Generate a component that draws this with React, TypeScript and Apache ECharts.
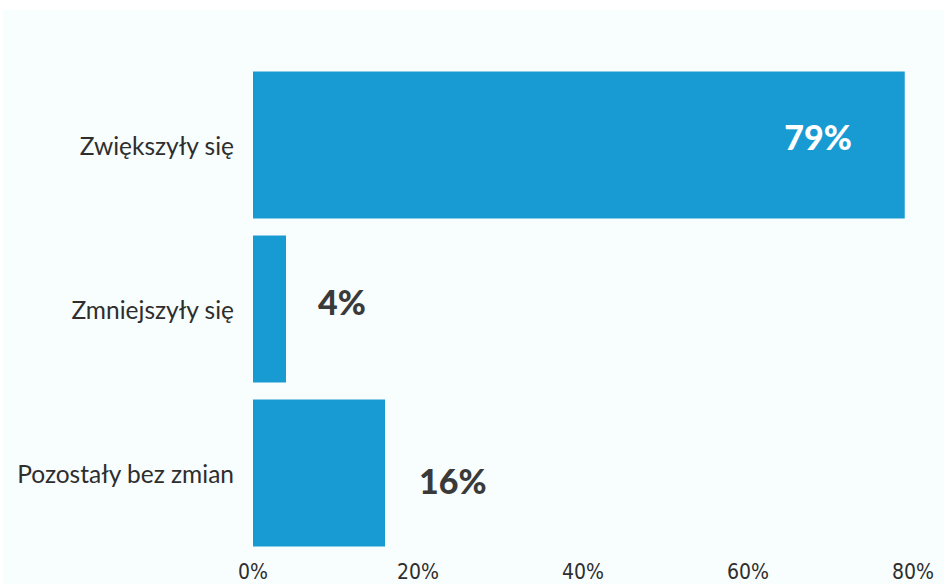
import React, { useEffect, useRef } from "react";
import * as echarts from "echarts";

const categories = ["Zwiększyły się", "Zmniejszyły się", "Pozostały bez zmian"];
const values = [79, 4, 16];
const xTicks = [0, 20, 40, 60, 80];

export default function App() {
  const ref = useRef<HTMLDivElement>(null);
  useEffect(() => {
    if (!ref.current) return;
    const chart = echarts.init(ref.current, undefined, { renderer: "svg" });
    const labelCfg = [
      { position: "insideRight", distance: 53, offset: [0, -9], color: "#ffffff" },
      { position: "right", distance: 32, offset: [0, -8], color: "#3a3a3a" },
      { position: "right", distance: 34, offset: [0, 7], color: "#3a3a3a" },
    ];
    chart.setOption({
      animation: false,
      backgroundColor: "#ffffff",
      graphic: [
        {
          type: "rect",
          z: -10,
          silent: true,
          shape: { x: 3, y: 10, width: 941, height: 574 },
          style: { fill: "#f8fdfd" },
        },
      ],
      grid: { left: 253, right: 31, top: 63, bottom: 29, containLabel: false },
      xAxis: {
        type: "value",
        min: xTicks[0],
        max: xTicks[xTicks.length - 1],
        interval: 20,
        axisLine: { show: false },
        axisTick: { show: false },
        splitLine: { show: false },
        axisLabel: {
          formatter: (v: number) => `${v}%`,
          fontFamily: "DejaVu Sans Condensed",
          fontSize: 21,
          color: "#2e2e2e",
          margin: 6,
          verticalAlign: "top",
        },
      },
      yAxis: {
        type: "category",
        data: categories,
        inverse: true,
        axisLine: { show: false },
        axisTick: { show: false },
        splitLine: { show: false },
        axisLabel: {
          fontFamily: "Lato",
          fontSize: 24.5,
          color: "#2e2e2e",
          margin: 19,
        },
      },
      series: [
        {
          type: "bar",
          barCategoryGap: "10.4%",
          itemStyle: { color: "#189bd3" },
          data: values.map((v, i) => ({
            value: v,
            label: {
              show: true,
              formatter: "{c}%",
              fontFamily: "Lato",
              fontWeight: 900,
              fontSize: 34,
              ...labelCfg[i],
            },
          })),
        },
      ],
    });
    return () => chart.dispose();
  }, []);
  return (
    <div
      ref={ref}
      style={{ position: "fixed", left: 0, top: 0, width: 944, height: 584 }}
    />
  );
}
